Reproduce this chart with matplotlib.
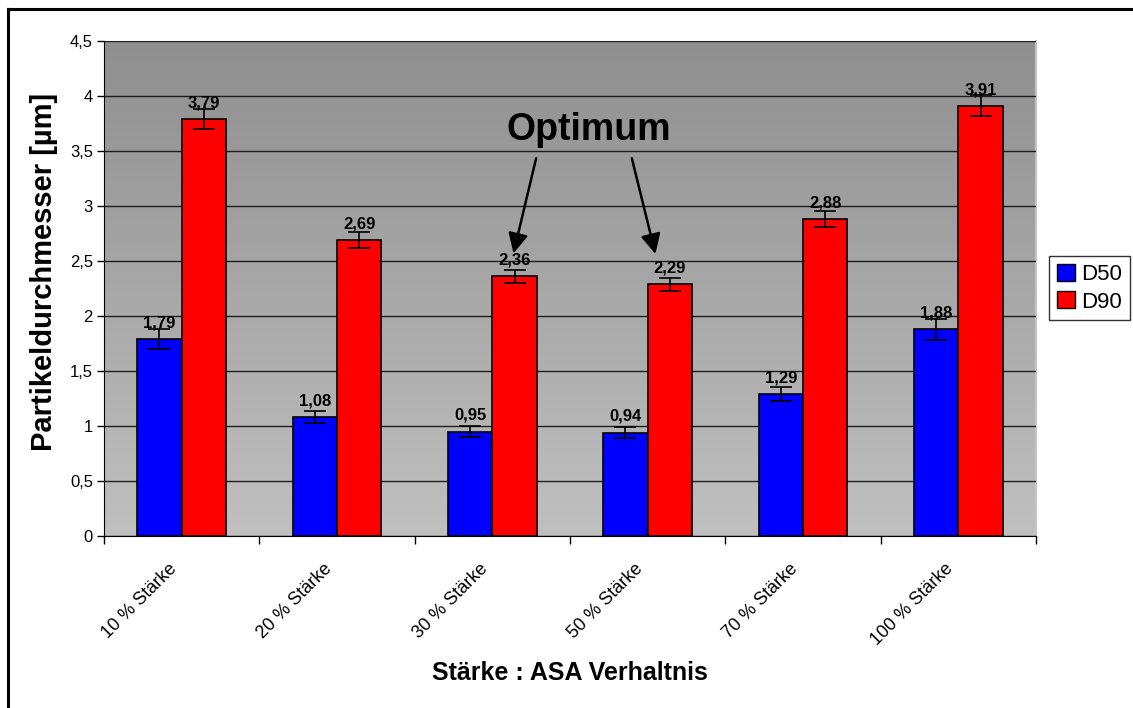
#!/usr/bin/env python3
"""
Particle size (D50 / D90) per starch : ASA ratio, Excel-style bar chart.
"""

import numpy as np
import matplotlib
matplotlib.use('Agg')
import matplotlib.pyplot as plt
import matplotlib.transforms as mtransforms
from matplotlib.colors import LinearSegmentedColormap
from matplotlib.patches import Patch
from matplotlib.lines import Line2D
from matplotlib.ticker import FuncFormatter

OUTPUT_FILE = 'out.png'

categories = ['10 % Stärke', '20 % Stärke', '30 % Stärke',
              '50 % Stärke', '70 % Stärke', '100 % Stärke']
d50 = [1.79, 1.08, 0.95, 0.94, 1.29, 1.88]
d90 = [3.79, 2.69, 2.36, 2.29, 2.88, 3.91]
d50_err = [0.09, 0.055, 0.05, 0.05, 0.065, 0.095]
d90_err = [0.09, 0.07, 0.06, 0.06, 0.075, 0.095]
series_names = ['D50', 'D90']

plt.rcParams['font.family'] = ['Liberation Sans', 'DejaVu Sans']


def comma(v, fmt='{:.2f}'):
    return fmt.format(v).replace('.', ',')


def main():
    fig = plt.figure(figsize=(11.33, 7.08), dpi=100)
    ax = fig.add_axes([0.0918, 0.2429, 0.8226, 0.6992])

    n = len(categories)
    x = np.arange(n)
    w = 1 / 3.5  # Excel gap width 150 %

    ax.set_xlim(-0.5, n - 0.5)
    ax.set_ylim(0, 4.5)

    # grey gradient plot area, dark at the top
    cmap = LinearSegmentedColormap.from_list('bg', ['#c0c0c0', '#8f8f8f'])
    grad = np.linspace(0, 1, 256).reshape(-1, 1)
    ax.imshow(grad, cmap=cmap, aspect='auto', origin='lower',
              extent=[-0.5, n - 0.5, 0, 4.5], zorder=0)

    ax.set_yticks(np.arange(0, 4.51, 0.5))
    ax.yaxis.set_major_formatter(FuncFormatter(lambda v, p: comma(v, '{:g}')))
    ax.grid(axis='y', color='#1e1e1e', linewidth=1.0, zorder=1)
    ax.set_axisbelow(False)

    ax.bar(x - w / 2, d50, w, color='#0000ff', edgecolor='black',
           linewidth=1.2, zorder=3)
    ax.bar(x + w / 2, d90, w, color='#ff0000', edgecolor='black',
           linewidth=1.2, zorder=3)
    ax.errorbar(x - w / 2, d50, yerr=d50_err, fmt='none', ecolor='black',
                elinewidth=1.2, capsize=8, capthick=1.2, zorder=4)
    ax.errorbar(x + w / 2, d90, yerr=d90_err, fmt='none', ecolor='black',
                elinewidth=1.2, capsize=8, capthick=1.2, zorder=4)

    for xs, vals in [(x - w / 2, d50), (x + w / 2, d90)]:
        for xi, v in zip(xs, vals):
            ax.annotate(comma(v), (xi, v), xytext=(0, 8.5),
                        textcoords='offset points', ha='center',
                        va='baseline', fontsize=12, fontweight='bold',
                        zorder=5)

    # Optimum annotation with two arrows
    ax.text(2.62, 3.69, 'Optimum', ha='center', va='center',
            fontsize=27, fontweight='bold', zorder=6)
    for start, end in [((2.282, 3.434), (2.136, 2.57)),
                       ((2.898, 3.434), (3.05, 2.564))]:
        ax.annotate('', xy=end, xytext=start,
                    arrowprops=dict(arrowstyle='-|>', color='black', lw=1.8,
                                    mutation_scale=30, shrinkA=0, shrinkB=0),
                    zorder=6)

    # x axis: ticks at category boundaries, labels at centres
    ax.set_xticks(np.arange(n + 1) - 0.5)
    ax.set_xticklabels([])
    ax.set_xticks(x, minor=True)
    ax.set_xticklabels(categories, minor=True, rotation=45, ha='right',
                       va='center', rotation_mode='anchor', fontsize=13)
    ax.tick_params(axis='x', which='major', direction='out', length=6,
                   width=1)
    ax.tick_params(axis='x', which='minor', length=0, pad=22)
    ax.tick_params(axis='y', direction='out', length=5, width=1,
                   labelsize=12, pad=3)
    # nudge the rotated labels a bit to the left (after tick_params)
    shift = mtransforms.ScaledTranslation(-0.075, 0, fig.dpi_scale_trans)
    for lbl in ax.get_xticklabels(minor=True):
        lbl.set_transform(lbl.get_transform() + shift)

    ax.spines['left'].set_color('black')
    ax.spines['bottom'].set_color('black')
    ax.spines['top'].set_color('#c4c4c4')
    ax.spines['right'].set_color('#c4c4c4')
    ax.spines['right'].set_linewidth(1.5)

    ax.set_ylabel('Partikeldurchmesser [µm]', fontsize=21, fontweight='bold')
    ax.yaxis.set_label_coords(-0.049, 0.534)
    fig.text(0.503, 0.049, 'Stärke : ASA Verhaltnis', ha='center',
             va='center', fontsize=18, fontweight='bold')

    handles = [Patch(facecolor='#0000ff', edgecolor='black', lw=1),
               Patch(facecolor='#ff0000', edgecolor='black', lw=1)]
    leg = fig.legend(handles, series_names, loc='center left',
                     bbox_to_anchor=(0.926, 0.593), fontsize=16,
                     handlelength=0.8, handleheight=0.8, handletextpad=0.3,
                     borderpad=0.35, labelspacing=0.3, fancybox=False,
                     borderaxespad=0)
    leg.get_frame().set_edgecolor('black')
    leg.get_frame().set_linewidth(1)

    # chart border (left and top edges visible)
    fig.add_artist(Line2D([0.0075, 0.0075], [0, 0.9866], lw=2.2,
                          color='black', transform=fig.transFigure))
    fig.add_artist(Line2D([0.0075, 1.0], [0.9866, 0.9866], lw=2.2,
                          color='black', transform=fig.transFigure))

    fig.savefig(OUTPUT_FILE, dpi=100)
    print(f'Graph saved to {OUTPUT_FILE}')


if __name__ == '__main__':
    main()
